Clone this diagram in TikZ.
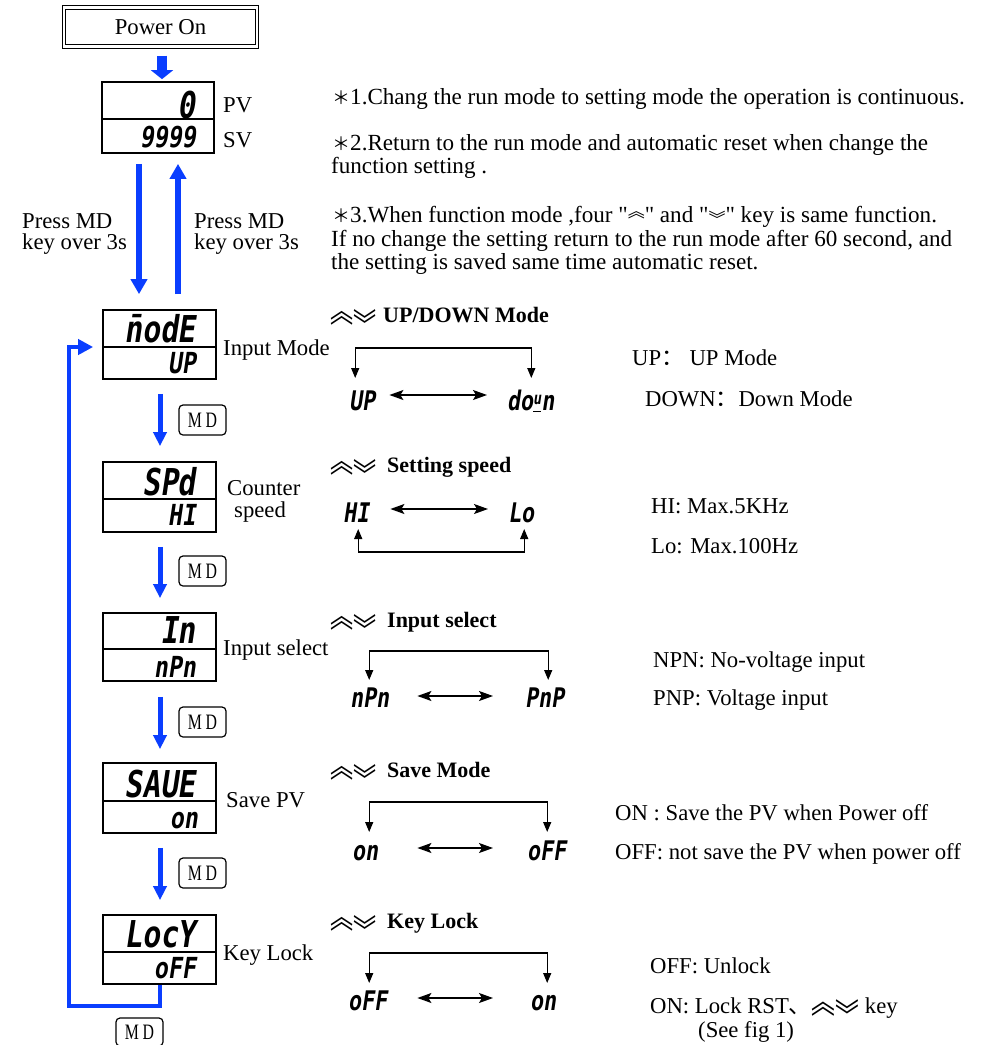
\documentclass[tikz,border=0pt]{standalone}
\usepackage{fontspec}
\usepackage{graphicx}
\setmainfont{Liberation Serif}
\newfontfamily\cjk{Noto Sans CJK SC}
\newfontfamily\segfont{DejaVu Sans Mono Bold}[FakeStretch=0.8,FakeSlant=0.15]
\newfontfamily\keyfont{Liberation Serif}[FakeStretch=0.72]
\usetikzlibrary{arrows.meta,calc}
\definecolor{arrowblue}{RGB}{10,62,255}
\newcommand\upkey{{\cjk\scalebox{1.05}[1.45]{︽}}}
\newcommand\dnkey{{\cjk\raisebox{-0.66em}[0.7em][0pt]{\scalebox{1.05}[1.45]{︾}}}}
\newcommand\upkeyS{{\cjk\fontsize{17}{17}\selectfont\raisebox{0.25em}{︽}}}
\newcommand\dnkeyS{{\cjk\fontsize{17}{17}\selectfont\raisebox{-0.2em}[0.7em][0pt]{︾}}}
\newcommand\dq{\XeTeXglyph\XeTeXcharglyph"22\relax}
\newcommand\starmark{{\cjk\fontsize{18}{18}\selectfont ＊}}
\begin{document}
\begin{tikzpicture}[x=1pt,y=-1pt,font=\fontsize{22.7}{27}\selectfont,
  lbl/.style={inner sep=0,anchor=base west},
  note/.style={inner sep=0,anchor=base west,font=\fontsize{23.1}{27}\selectfont},
  disp/.style={draw,line width=1.7pt,minimum width=113pt,minimum height=69pt,inner sep=0},
  divl/.style={line width=1.2pt},
  segA/.style={inner sep=0,anchor=base east,font=\segfont\fontsize{37}{37}\selectfont},
  segB/.style={inner sep=0,anchor=base east,font=\segfont\fontsize{29}{29}\selectfont},
  segC/.style={inner sep=0,anchor=base west,font=\segfont\fontsize{27}{27}\selectfont},
  head/.style={inner sep=0,anchor=base west,font=\fontsize{22}{26}\selectfont\bfseries},
  chev/.style={inner sep=0,anchor=base west,font=\fontsize{22}{26}\selectfont},
  mdkey/.style={draw,rounded corners=4pt,line width=1.2pt,minimum width=47pt,minimum height=30pt,inner sep=0,font=\keyfont\fontsize{22}{22}\selectfont},
  bluearr/.style={draw=arrowblue,line width=6pt,-{Triangle[length=15pt,width=16pt]}},
  mdarr/.style={draw=arrowblue,line width=5pt,-{Triangle[length=14pt,width=13pt]}},
  pwarr/.style={draw=arrowblue,line width=10pt,-{Triangle[length=9pt,width=22pt]}},
  looparr/.style={draw=arrowblue,line width=4pt,-{Triangle[length=15pt,width=15pt]}},
  brk/.style={line width=1.3pt,{Triangle[length=10pt,width=8pt]}-{Triangle[length=10pt,width=8pt]}},
  dbl/.style={line width=1.3pt,{Stealth[length=14pt,width=10pt,inset=3pt]}-{Stealth[length=14pt,width=10pt,inset=3pt]}}
]
\useasboundingbox[fill=white] (0,0) rectangle (982,1045);

% ---------- left column ----------
\node[draw,double,double distance=2.2pt,line width=1pt,minimum width=193pt,minimum height=39pt,inner sep=0] (pw) at (160.5,27) {Power On};

\node[disp,minimum width=112pt,minimum height=71pt] (pv) at (158,117.5) {};
\draw[divl] ($(pv.west)+(0,1.5)$) -- ($(pv.east)+(0,1.5)$);
\node[segA] (pv0) at (196,118) {0};
\node[segB] (pv9) at (196,147) {9999};
\node[lbl] (pvl) at (223,112) {PV};
\node[lbl] (svl) at (223,147) {SV};

\draw[pwarr] ($(pw.south)+(1.5,8.5)$) -- ($(pv.north)+(4,-2)$);

\node[disp] (d1) at (159.5,344.5) {};
\node[disp,minimum height=70pt] (d2) at (159.5,497) {};
\node[disp,minimum height=68pt] (d3) at (159.5,647) {};
\node[disp,minimum height=70pt] (d4) at (159.5,798) {};
\node[disp] (d5) at (159.5,949.5) {};
\draw[divl] ($(d1.west)+(0,2.5)$) -- ($(d1.east)+(0,2.5)$);
\draw[divl] ($(d2.west)+(0,2)$) -- ($(d2.east)+(0,2)$);
\draw[divl] ($(d3.west)+(0,2)$) -- ($(d3.east)+(0,2)$);
\draw[divl] ($(d4.west)+(0,3)$) -- ($(d4.east)+(0,3)$);
\draw[divl] ($(d5.west)+(0,2.5)$) -- ($(d5.east)+(0,2.5)$);

\node[segA] (t1) at (196,342) {\=nodE};
\node[segB] (b1) at (196,373) {UP};
\node[segA] (t2) at (196,495) {SPd};
\node[segB] (b2) at (196,525) {HI};
\node[segA] (t3) at (196,643) {In};
\node[segB] (b3) at (196,677) {nPn};
\node[segA] (t4) at (196,797) {SAUE};
\node[segB] (b4) at (198,828) {on};
\node[segA] (t5) at (196,947) {LocY};
\node[segB] (b5) at (196,978) {oFF};

\node[lbl] (pl1) at (22,228) {Press MD};
\node[lbl] (pl2) at (22,249) {key over 3s};
\node[lbl] (pr1) at (194,228) {Press MD};
\node[lbl] (pr2) at (194,249) {key over 3s};

\draw[bluearr] ($(pv.south)+(-19,10)$) -- ($(d1.north)+(-20.5,-15)$);
\draw[bluearr] ($(d1.north)+(18.5,-15)$) -- ($(pv.south)+(20,10)$);

\node[lbl] (l1lab) at (223,355) {Input Mode};
\node[lbl] (l2lab) at (227,495) {Counter};
\node[lbl] (l2labb) at (234,517) {speed};
\node[lbl] (l3lab) at (223,655) {Input select};
\node[lbl] (l4lab) at (226,807) {Save PV};
\node[lbl] (l5lab) at (223,960) {Key Lock};

\draw[mdarr] ($(d1.south)+(0.5,14)$) -- ($(d2.north)+(0.5,-15)$);
\draw[mdarr] ($(d2.south)+(0.5,14)$) -- ($(d3.north)+(0.5,-14)$);
\draw[mdarr] ($(d3.south)+(0.5,15)$) -- ($(d4.north)+(0.5,-13)$);
\draw[mdarr] ($(d4.south)+(0.5,14)$) -- ($(d5.north)+(0.5,-14)$);

\node[mdkey] (k1) at (202.5,420) {M\,D};
\node[mdkey] (k2) at (202.5,571) {M\,D};
\node[mdkey] (k3) at (202.5,722) {M\,D};
\node[mdkey] (k4) at (202.5,873) {M\,D};
\node[mdkey,minimum height=28pt] (k5) at (139.5,1032) {M\,D};

\draw[looparr,line join=miter] ($(d5.south)+(0.5,0)$) -- ++(0,21) -| ($(d1.west)+(-33,2.5)$) -- ($(d1.west)+(-9,2.5)$);

% ---------- notes ----------
\node[note] (n1) at (332,104) {\starmark1.Chang the run mode to setting mode the operation is continuous.};
\node[note] (n2a) at (332,150) {\starmark2.Return to the run mode and automatic reset when change the};
\node[note] (n2b) at (331,173) {function setting .};
\node[note] (n3a) at (332,222) {\starmark3.When function mode ,four \dq\upkeyS\dq\ and \dq\dnkeyS\dq\ key is same function.};
\node[note] (n3b) at (331,246) {If no change the setting return to the run mode after 60 second, and};
\node[note] (n3c) at (331,269) {the setting is saved same time automatic reset.};

% ---------- headings ----------
\node[chev] (c1) at (330,322) {\upkey\dnkey};
\node[head] (h1t) at (383,322) {UP/DOWN Mode};
\node[chev] (c2) at (330,472) {\upkey\dnkey};
\node[head] (h2t) at (387,472) {Setting speed};
\node[chev] (c3) at (330,627) {\upkey\dnkey};
\node[head] (h3t) at (387,627) {Input select};
\node[chev] (c4) at (330,777) {\upkey\dnkey};
\node[head] (h4t) at (387,777) {Save Mode};
\node[chev] (c5) at (330,928) {\upkey\dnkey};
\node[head] (h5t) at (387,928) {Key Lock};

% ---------- diagrams ----------
\node[segC] (u1) at (349,410) {UP};
\node[segC] (u2) at (507,410) {do\underline{\raisebox{6pt}{\fontsize{17}{17}\selectfont u}}n};
\draw[dbl] ($(u1.base east)+(14,-15)$) -- ($(u2.base west)+(-20,-15)$);
\draw[brk] ($(u1.base)+(-7,-32)$) -- ++(0,-30) -| ($(u2.base)+(0.5,-32)$);

\node[segC] (s1) at (343,522) {HI};
\node[segC] (s2) at (508,522) {Lo};
\draw[dbl] ($(s1.base east)+(21,-13)$) -- ($(s2.base west)+(-20,-13)$);
\draw[brk] ($(s1.base)+(2,7)$) -- ++(0,23) -| ($(s2.base)+(3,7)$);

\node[segC] (i1) at (350,707) {nPn};
\node[segC] (i2) at (525,707) {PnP};
\draw[dbl] ($(i1.base east)+(28,-11)$) -- ($(i2.base west)+(-32,-11)$);
\draw[brk] ($(i1.base)+(-0.5,-27)$) -- ++(0,-29) -| ($(i2.base)+(3.5,-27)$);

\node[segC] (v1) at (352,860) {on};
\node[segC] (v2) at (527,860) {oFF};
\draw[dbl] ($(v1.base east)+(39,-12)$) -- ($(v2.base west)+(-34,-12)$);
\draw[brk] ($(v1.base)+(4,-28)$) -- ++(0,-30) -| ($(v2.base)+(0.5,-28)$);

\node[segC] (o1) at (348,1010) {oFF};
\node[segC] (o2) at (530,1010) {on};
\draw[dbl] ($(o1.base east)+(30,-12)$) -- ($(o2.base west)+(-37,-12)$);
\draw[brk] ($(o1.base)+(1.5,-27)$) -- ++(0,-30) -| ($(o2.base)+(4,-27)$);

% ---------- descriptions ----------
\node[lbl] (e1) at (632,365) {UP{\cjk ：} UP Mode};
\node[lbl] (e2) at (645,406) {DOWN{\cjk ：}Down Mode};
\node[lbl] (e3) at (651,513) {HI: Max.5KHz};
\node[lbl] (e4) at (651,553) {Lo: Max.100Hz};
\node[lbl] (e5) at (653,667) {NPN: No-voltage input};
\node[lbl] (e6) at (653,705) {PNP: Voltage input};
\node[lbl] (e7) at (615,820) {ON : Save the PV when Power off};
\node[lbl] (e8) at (615,859) {OFF: not save the PV when power off};
\node[lbl] (e9) at (650,973) {OFF: Unlock};
\node[lbl] (e10) at (650,1013) {ON: Lock RST{\cjk 、}\upkey\dnkey\ key};
\node[lbl] (e11) at (698,1037) {(See fig 1)};
\end{tikzpicture}
\end{document}
